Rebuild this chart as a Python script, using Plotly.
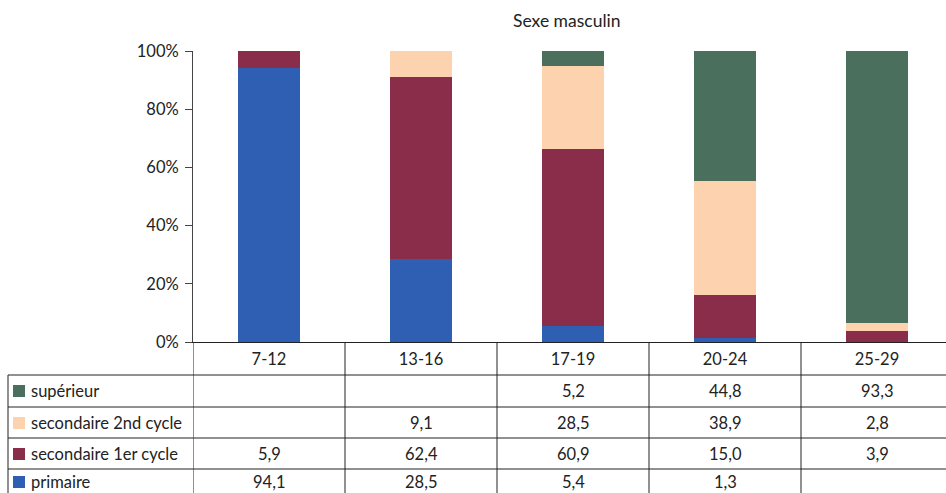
import plotly.graph_objects as go

categories = ["7-12", "13-16", "17-19", "20-24", "25-29"]
series_names = ["primaire", "secondaire 1er cycle", "secondaire 2nd cycle", "supérieur"]
primaire = [94.1, 28.5, 5.4, 1.3, None]
sec1 = [5.9, 62.4, 60.9, 15.0, 3.9]
sec2 = [None, 9.1, 28.5, 38.9, 2.8]
superieur = [None, None, 5.2, 44.8, 93.3]
colors = ["#2F5FB3", "#8A2D4A", "#FCD3AE", "#4B6F5D"]
y_ticks = [0, 20, 40, 60, 80, 100]
y_tick_labels = ["0%", "20%", "40%", "60%", "80%", "100%"]
title = "Sexe masculin"

series = [primaire, sec1, sec2, superieur]

W, H = 946, 493
L, R, T, B = 193, 946, 51, 342
COL_PX = 152  # pixel width of one category column
FONT = "Lato, 'Open Sans', sans-serif"
FS = 16.5

x_max = -0.5 + (R - L) / COL_PX

fig = go.Figure()
for name, vals, col in zip(series_names, series, colors):
    fig.add_bar(x=categories, y=[v if v is not None else 0 for v in vals],
                name=name, marker=dict(color=col, line=dict(width=0)),
                width=0.41, showlegend=False)

def px(xp):
    return (xp - L) / (R - L)

def py(yp):
    return (B - yp) / (B - T)

shapes = []
annotations = []
line = dict(color="#222222", width=1)

# horizontal table lines
for yl in [375, 407, 438, 469]:
    shapes.append(dict(type="line", xref="paper", yref="paper",
                       x0=px(8), x1=px(946), y0=py(yl), y1=py(yl), line=line))
# left border
shapes.append(dict(type="line", xref="paper", yref="paper",
                   x0=px(8), x1=px(8), y0=py(375), y1=py(500), line=line))
# column boundaries
for i in range(len(categories)):
    shapes.append(dict(type="line", xref="x", yref="paper",
                       x0=i - 0.5, x1=i - 0.5, y0=0, y1=py(500), line=line))

# table rows: top row is the last series
row_centers = [391, 423, 454, 482]
for r, idx in enumerate(reversed(range(len(series)))):
    yc = row_centers[r]
    shapes.append(dict(type="rect", xref="paper", yref="paper",
                       x0=px(13), x1=px(25), y0=py(yc + 6), y1=py(yc - 6),
                       fillcolor=colors[idx], line=dict(width=0)))
    annotations.append(dict(xref="paper", yref="paper", x=px(29), y=py(yc),
                            text=series_names[idx], showarrow=False,
                            xanchor="left", yanchor="middle",
                            font=dict(family=FONT, size=FS, color="#222")))
    for c, v in enumerate(series[idx]):
        if v is None:
            continue
        annotations.append(dict(xref="x", yref="paper", x=c, y=py(yc),
                                text=f"{v:.1f}".replace(".", ","), showarrow=False,
                                xanchor="center", yanchor="middle",
                                font=dict(family=FONT, size=FS, color="#222")))

annotations.append(dict(xref="paper", yref="paper", x=px(567), y=py(21),
                        text=title, showarrow=False, xanchor="center", yanchor="middle",
                        font=dict(family=FONT, size=17.5, color="#222")))

fig.update_layout(
    barmode="stack",
    width=W, height=H,
    margin=dict(l=L, r=W - R, t=T, b=H - B, pad=0),
    plot_bgcolor="white", paper_bgcolor="white",
    shapes=shapes, annotations=annotations,
    xaxis=dict(type="category", range=[-0.5, x_max],
               showgrid=False, zeroline=False, showline=True,
               linecolor="#222", linewidth=1, ticks="",
               tickfont=dict(family=FONT, size=FS, color="#222"),
               ticklabelstandoff=2),
    yaxis=dict(range=[0, 100], tickmode="array", tickvals=y_ticks,
               ticktext=y_tick_labels,
               showgrid=False, zeroline=False, showline=True,
               linecolor="#444", linewidth=1, ticks="outside", ticklen=7,
               tickcolor="#444", ticklabelstandoff=3,
               tickfont=dict(family=FONT, size=FS, color="#222")),
    font=dict(family=FONT),
)

fig.write_html("out.html")
